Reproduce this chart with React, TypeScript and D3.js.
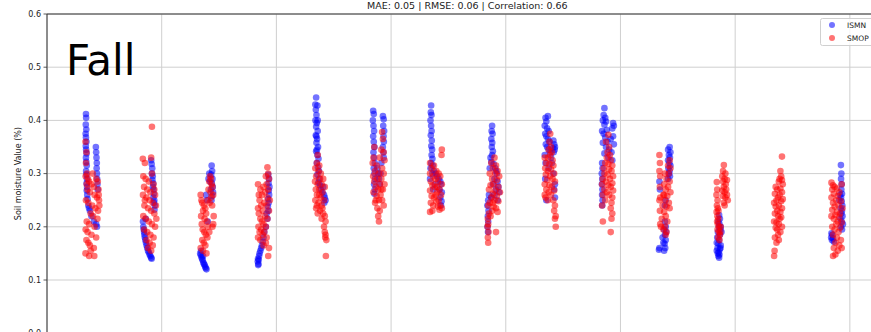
import React from "react";
import * as d3 from "d3";

// ---- Data: [day since Sep 1, soil moisture] for each fall season (year index) ----
const ismn00 = [[5,0.412],[6,0.405],[4,0.392],[7,0.383],[3,0.375],[5,0.368],[8,0.36],[4,0.352],[6,0.345],[9,0.338],[5,0.33],[7,0.322],[10,0.315],[6,0.305],[8,0.298],[11,0.29],[9,0.282],[12,0.275],[10,0.268],[13,0.26],[15,0.252],[30,0.23],[40,0.22],[55,0.21],[70,0.205],[75,0.2],[68,0.35],[70,0.34],[72,0.33],[74,0.32],[73,0.31],[75,0.3],[76,0.29],[78,0.28],[80,0.27],[20,0.24],[25,0.235]];
const smop00 = [[2,0.36],[8,0.34],[5,0.32],[12,0.3],[3,0.295],[18,0.29],[25,0.285],[10,0.28],[40,0.28],[55,0.275],[70,0.29],[80,0.285],[85,0.27],[15,0.27],[30,0.265],[60,0.26],[75,0.255],[88,0.25],[5,0.25],[20,0.245],[45,0.24],[65,0.235],[82,0.23],[35,0.225],[50,0.22],[78,0.215],[10,0.21],[25,0.205],[60,0.2],[3,0.195],[15,0.19],[40,0.185],[70,0.18],[8,0.175],[20,0.17],[30,0.165],[55,0.16],[35,0.155],[2,0.15],[25,0.145],[58,0.145],[86,0.26],[90,0.24],[48,0.3]];
const ismn01 = [[55,0.325],[58,0.318],[62,0.31],[60,0.3],[65,0.295],[63,0.288],[68,0.282],[66,0.275],[70,0.27],[72,0.262],[69,0.255],[75,0.25],[73,0.245],[78,0.24],[76,0.232],[5,0.2],[8,0.195],[10,0.19],[12,0.185],[15,0.18],[18,0.175],[22,0.17],[26,0.165],[30,0.16],[35,0.155],[40,0.152],[45,0.148],[50,0.145],[55,0.142],[58,0.14],[3,0.21],[20,0.215]];
const smop01 = [[60,0.388],[2,0.328],[55,0.33],[15,0.32],[60,0.3],[5,0.295],[20,0.29],[40,0.285],[70,0.28],[10,0.275],[30,0.27],[50,0.265],[80,0.26],[3,0.26],[25,0.255],[45,0.25],[65,0.245],[85,0.24],[12,0.24],[35,0.235],[55,0.23],[75,0.225],[5,0.22],[20,0.215],[40,0.21],[60,0.205],[80,0.2],[10,0.195],[30,0.19],[50,0.185],[70,0.18],[88,0.215],[25,0.175],[45,0.17],[65,0.165],[35,0.16],[55,0.155],[15,0.25],[75,0.27]];
const ismn02 = [[75,0.315],[78,0.305],[72,0.298],[80,0.29],[76,0.282],[82,0.275],[70,0.27],[84,0.265],[78,0.258],[74,0.25],[60,0.3],[65,0.285],[55,0.29],[40,0.26],[45,0.25],[50,0.21],[2,0.15],[6,0.147],[10,0.143],[14,0.14],[18,0.137],[22,0.133],[26,0.13],[30,0.128],[34,0.125],[38,0.122],[42,0.12],[8,0.155],[20,0.145]];
const smop02 = [[65,0.295],[70,0.29],[60,0.285],[75,0.28],[80,0.275],[55,0.27],[68,0.265],[85,0.26],[72,0.255],[50,0.25],[62,0.245],[78,0.24],[5,0.26],[10,0.25],[15,0.245],[25,0.24],[35,0.235],[20,0.23],[40,0.225],[8,0.22],[30,0.215],[45,0.21],[88,0.22],[12,0.205],[50,0.2],[18,0.195],[28,0.19],[38,0.185],[48,0.18],[15,0.175],[25,0.17],[35,0.165],[5,0.16],[20,0.155],[42,0.15],[80,0.2],[85,0.205],[60,0.19]];
const ismn03 = [[70,0.298],[75,0.29],[72,0.282],[78,0.275],[74,0.268],[76,0.26],[70,0.252],[73,0.245],[68,0.238],[71,0.23],[60,0.225],[65,0.215],[55,0.2],[45,0.19],[40,0.18],[35,0.172],[30,0.165],[25,0.16],[5,0.14],[3,0.135],[8,0.13],[6,0.128],[10,0.138],[12,0.145],[15,0.15],[20,0.155]];
const smop03 = [[65,0.312],[70,0.3],[55,0.295],[75,0.29],[5,0.28],[60,0.28],[40,0.275],[20,0.27],[70,0.27],[50,0.265],[10,0.26],[30,0.26],[65,0.255],[80,0.25],[15,0.25],[45,0.245],[25,0.24],[60,0.24],[5,0.235],[35,0.23],[75,0.23],[10,0.225],[50,0.22],[20,0.215],[65,0.215],[30,0.21],[40,0.205],[8,0.2],[55,0.2],[25,0.195],[15,0.19],[45,0.19],[35,0.185],[60,0.18],[5,0.18],[20,0.175],[75,0.16],[40,0.165],[70,0.145],[55,0.17]];
const ismn04 = [[10,0.443],[5,0.43],[18,0.428],[8,0.42],[12,0.41],[6,0.4],[14,0.395],[10,0.388],[20,0.38],[8,0.372],[16,0.365],[12,0.358],[22,0.35],[10,0.342],[18,0.335],[25,0.328],[14,0.32],[22,0.312],[28,0.305],[18,0.298],[30,0.29],[25,0.283],[35,0.278],[40,0.27],[50,0.265],[60,0.26],[65,0.255],[70,0.25],[62,0.245],[55,0.275],[12,0.37],[20,0.4],[15,0.345]];
const smop04 = [[20,0.335],[15,0.32],[30,0.315],[5,0.31],[25,0.305],[40,0.3],[10,0.295],[35,0.29],[55,0.29],[3,0.285],[20,0.28],[45,0.28],[65,0.275],[8,0.27],[30,0.27],[50,0.265],[15,0.26],[40,0.255],[60,0.25],[5,0.25],[25,0.245],[45,0.24],[10,0.235],[35,0.23],[55,0.225],[20,0.225],[65,0.22],[45,0.215],[70,0.21],[60,0.2],[65,0.19],[70,0.185],[75,0.175],[68,0.18],[72,0.145],[30,0.26],[50,0.235],[15,0.24]];
const ismn05 = [[8,0.418],[12,0.412],[6,0.4],[10,0.39],[14,0.38],[8,0.37],[12,0.36],[16,0.35],[10,0.34],[14,0.33],[18,0.32],[12,0.31],[16,0.3],[20,0.29],[14,0.28],[18,0.27],[16,0.262],[70,0.408],[75,0.402],[72,0.39],[78,0.38],[74,0.37],[76,0.36],[70,0.35],[73,0.34],[75,0.33],[40,0.3],[45,0.29],[50,0.28],[35,0.31],[60,0.32],[55,0.3]];
const smop05 = [[65,0.378],[70,0.365],[15,0.35],[60,0.345],[75,0.34],[10,0.33],[50,0.33],[80,0.325],[5,0.32],[30,0.315],[65,0.31],[20,0.305],[45,0.3],[75,0.3],[8,0.295],[35,0.29],[60,0.29],[15,0.285],[50,0.28],[80,0.28],[25,0.275],[40,0.27],[70,0.27],[10,0.265],[55,0.26],[30,0.258],[45,0.25],[65,0.25],[20,0.245],[75,0.24],[35,0.235],[50,0.23],[40,0.22],[45,0.21],[25,0.25],[60,0.27]];
const ismn06 = [[12,0.428],[10,0.415],[14,0.41],[8,0.4],[12,0.39],[15,0.38],[10,0.372],[16,0.362],[13,0.352],[18,0.345],[15,0.335],[20,0.328],[12,0.32],[22,0.315],[8,0.31],[30,0.305],[40,0.3],[50,0.295],[60,0.29],[70,0.285],[75,0.28],[65,0.27],[80,0.265],[70,0.255],[78,0.248],[75,0.24],[20,0.3],[5,0.29],[35,0.28],[25,0.27]];
const smop06 = [[80,0.345],[78,0.335],[5,0.32],[30,0.315],[15,0.31],[45,0.305],[60,0.3],[5,0.3],[25,0.295],[70,0.295],[40,0.29],[10,0.285],[55,0.285],[80,0.28],[20,0.278],[35,0.275],[65,0.27],[5,0.268],[50,0.265],[75,0.26],[15,0.258],[30,0.255],[60,0.25],[45,0.248],[10,0.245],[70,0.24],[25,0.24],[55,0.238],[80,0.235],[65,0.232],[20,0.23],[5,0.228],[40,0.26],[50,0.275]];
const ismn07 = [[35,0.39],[32,0.38],[38,0.375],[30,0.365],[36,0.358],[33,0.35],[40,0.342],[35,0.335],[25,0.33],[30,0.322],[45,0.318],[55,0.31],[60,0.305],[20,0.31],[65,0.3],[50,0.29],[70,0.285],[40,0.28],[75,0.275],[60,0.27],[80,0.265],[15,0.26],[10,0.25],[70,0.25],[5,0.24],[12,0.23],[8,0.22],[10,0.21],[6,0.2],[9,0.19],[50,0.26],[30,0.255]];
const smop07 = [[50,0.33],[30,0.32],[60,0.315],[40,0.31],[70,0.305],[20,0.3],[55,0.3],[80,0.295],[35,0.29],[65,0.288],[45,0.28],[25,0.278],[75,0.275],[15,0.27],[55,0.268],[85,0.265],[40,0.262],[65,0.258],[30,0.255],[50,0.25],[75,0.248],[20,0.245],[10,0.24],[45,0.238],[60,0.235],[35,0.23],[15,0.225],[70,0.228],[25,0.22],[8,0.215],[10,0.205],[6,0.2],[12,0.19],[8,0.18],[10,0.17],[60,0.19],[40,0.245]];
const ismn08 = [[10,0.405],[25,0.408],[15,0.398],[5,0.39],[20,0.385],[30,0.38],[8,0.375],[15,0.37],[25,0.365],[35,0.36],[60,0.362],[65,0.355],[70,0.35],[12,0.355],[20,0.35],[30,0.345],[40,0.34],[55,0.348],[62,0.34],[68,0.345],[5,0.335],[45,0.33],[10,0.32],[50,0.32],[60,0.3],[30,0.31],[8,0.29],[70,0.28],[65,0.27],[15,0.25],[70,0.255]];
const smop08 = [[40,0.375],[35,0.36],[45,0.35],[30,0.345],[50,0.34],[40,0.335],[5,0.33],[25,0.33],[55,0.325],[15,0.32],[35,0.318],[60,0.315],[8,0.31],[45,0.308],[25,0.305],[65,0.3],[12,0.298],[40,0.295],[55,0.29],[20,0.288],[70,0.285],[5,0.28],[35,0.278],[50,0.275],[15,0.27],[65,0.268],[30,0.265],[45,0.26],[10,0.255],[60,0.25],[25,0.25],[70,0.24],[5,0.26],[65,0.23],[75,0.22],[70,0.215],[75,0.2]];
const ismn09 = [[20,0.423],[15,0.41],[25,0.405],[10,0.4],[30,0.398],[75,0.395],[80,0.39],[20,0.392],[70,0.385],[35,0.382],[5,0.38],[15,0.375],[75,0.37],[25,0.368],[60,0.365],[40,0.36],[10,0.358],[80,0.355],[30,0.35],[50,0.345],[65,0.34],[20,0.338],[45,0.33],[70,0.325],[5,0.32],[8,0.31],[3,0.3],[6,0.29],[4,0.28],[7,0.27],[5,0.26],[8,0.25],[6,0.24]];
const smop09 = [[45,0.373],[30,0.36],[50,0.35],[40,0.34],[55,0.335],[35,0.33],[60,0.325],[25,0.32],[45,0.318],[70,0.315],[15,0.31],[50,0.308],[65,0.305],[20,0.3],[40,0.298],[75,0.295],[10,0.29],[55,0.29],[30,0.285],[70,0.282],[5,0.28],[45,0.278],[60,0.275],[20,0.27],[75,0.268],[35,0.265],[10,0.26],[50,0.26],[70,0.255],[25,0.25],[65,0.245],[5,0.24],[60,0.235],[70,0.225],[65,0.215],[10,0.21],[60,0.19]];
const ismn10 = [[70,0.35],[60,0.345],[75,0.34],[65,0.335],[72,0.33],[60,0.325],[68,0.32],[75,0.315],[62,0.31],[70,0.305],[65,0.3],[72,0.295],[60,0.29],[5,0.285],[8,0.27],[40,0.21],[45,0.2],[35,0.195],[40,0.185],[45,0.175],[38,0.168],[42,0.16],[35,0.155],[2,0.157],[5,0.16],[30,0.17],[25,0.18],[48,0.19],[40,0.24],[45,0.25]];
const smop10 = [[5,0.335],[8,0.32],[70,0.325],[60,0.315],[5,0.305],[75,0.31],[40,0.3],[10,0.295],[65,0.3],[50,0.29],[70,0.285],[35,0.28],[8,0.275],[60,0.275],[45,0.27],[75,0.265],[30,0.26],[55,0.258],[10,0.255],[40,0.25],[65,0.245],[25,0.24],[50,0.238],[70,0.235],[8,0.23],[35,0.228],[45,0.22],[20,0.215],[55,0.21],[10,0.205],[40,0.2],[30,0.195],[50,0.19],[15,0.2],[45,0.185],[35,0.26],[5,0.25]];
const ismn11 = [[20,0.222],[25,0.215],[15,0.21],[22,0.205],[18,0.2],[28,0.195],[12,0.19],[25,0.185],[8,0.18],[20,0.175],[5,0.17],[15,0.168],[30,0.165],[10,0.16],[25,0.158],[5,0.155],[18,0.152],[12,0.15],[22,0.148],[15,0.145],[20,0.142],[28,0.16],[35,0.19],[30,0.2]];
const smop11 = [[50,0.316],[45,0.305],[60,0.3],[40,0.295],[55,0.29],[70,0.288],[45,0.285],[62,0.28],[50,0.275],[65,0.27],[40,0.268],[55,0.265],[70,0.26],[45,0.258],[60,0.255],[75,0.25],[50,0.245],[55,0.24],[5,0.284],[8,0.27],[3,0.26],[10,0.25],[6,0.24],[12,0.235],[4,0.228],[9,0.22],[15,0.215],[7,0.21],[12,0.205],[20,0.2],[10,0.195],[18,0.19],[25,0.185],[14,0.18],[22,0.175],[30,0.2],[28,0.19],[16,0.23]];
const ismn12: number[][] = [];
const smop12 = [[55,0.332],[45,0.305],[50,0.295],[40,0.29],[55,0.288],[35,0.285],[60,0.28],[15,0.275],[45,0.272],[25,0.27],[55,0.265],[10,0.262],[40,0.26],[30,0.255],[60,0.252],[20,0.25],[50,0.248],[5,0.245],[35,0.24],[15,0.238],[55,0.235],[25,0.23],[45,0.228],[10,0.225],[30,0.22],[50,0.218],[40,0.215],[5,0.21],[20,0.208],[35,0.205],[55,0.2],[15,0.198],[25,0.195],[45,0.19],[30,0.185],[10,0.18],[35,0.175],[20,0.17],[8,0.155],[5,0.145]];
const ismn13 = [[65,0.316],[68,0.3],[66,0.29],[70,0.28],[68,0.27],[72,0.262],[66,0.255],[70,0.248],[74,0.24],[64,0.235],[72,0.23],[68,0.225],[75,0.22],[62,0.215],[70,0.21],[78,0.205],[65,0.2],[72,0.195],[5,0.188],[10,0.185],[3,0.18],[15,0.178],[8,0.175],[20,0.172],[60,0.26],[55,0.25]];
const smop13 = [[5,0.283],[15,0.278],[25,0.275],[70,0.28],[10,0.27],[40,0.272],[55,0.265],[20,0.262],[45,0.258],[5,0.255],[35,0.25],[65,0.248],[15,0.245],[50,0.24],[25,0.238],[75,0.235],[10,0.232],[40,0.228],[60,0.225],[30,0.222],[5,0.22],[55,0.218],[20,0.215],[45,0.21],[70,0.208],[35,0.205],[10,0.2],[60,0.198],[25,0.195],[50,0.19],[15,0.185],[40,0.18],[65,0.175],[30,0.17],[55,0.165],[20,0.16],[45,0.155],[30,0.148],[15,0.145],[70,0.16]];

const ismnSeasons = [ismn00, ismn01, ismn02, ismn03, ismn04, ismn05, ismn06, ismn07, ismn08, ismn09, ismn10, ismn11, ismn12, ismn13];
const smopSeasons = [smop00, smop01, smop02, smop03, smop04, smop05, smop06, smop07, smop08, smop09, smop10, smop11, smop12, smop13];

const yTicks = [0.0, 0.1, 0.2, 0.3, 0.4, 0.5, 0.6];
const xTicks = [0, 2, 4, 6, 8, 10, 12, 14];
const titleText = "MAE: 0.05 | RMSE: 0.06 | Correlation: 0.66";
const seasonLabel = "Fall";
const yLabel = "Soil moisture Value (%)";
const legendItems = [
  { name: "ISMN", color: "#0000ff" },
  { name: "SMOP", color: "#ff0000" },
];

const W = 871;
const H = 332;
const FALL_START = 243; // day of year for Sep 1

export default function App() {
  const x = d3.scaleLinear().domain([0, 14.66]).range([47, 887.7]);
  const y = d3.scaleLinear().domain([0, 0.6]).range([333.2, 14]);
  const toPoints = (seasons: number[][][]) =>
    seasons.flatMap((pts, i) =>
      pts.map(([d, v]) => ({ t: i + (FALL_START + d) / 365, v }))
    );
  const ismnPts = toPoints(ismnSeasons);
  const smopPts = toPoints(smopSeasons);
  const font = "'DejaVu Sans', sans-serif";
  const [x0, x1] = x.range();
  const [yb, yt] = y.range();
  const R = 3.3;

  return (
    <svg
      width={W}
      height={H}
      style={{ position: "absolute", left: 0, top: 0, background: "#fff" }}
      fontFamily={font}
    >
      <rect x={0} y={0} width={W} height={H} fill="#fff" />
      {yTicks.map((t) => (
        <line key={"gy" + t} x1={x0} x2={x1} y1={y(t)} y2={y(t)} stroke="#cfcfcf" strokeWidth={1} />
      ))}
      {xTicks.map((t) => (
        <line key={"gx" + t} x1={x(t)} x2={x(t)} y1={yt} y2={yb} stroke="#cfcfcf" strokeWidth={1} />
      ))}
      <g>
        {ismnPts.map((p, i) => (
          <circle key={"i" + i} cx={x(p.t)} cy={y(p.v)} r={R} fill="#0000ff" fillOpacity={0.55} />
        ))}
        {smopPts.map((p, i) => (
          <circle key={"s" + i} cx={x(p.t)} cy={y(p.v)} r={R} fill="#ff0000" fillOpacity={0.55} />
        ))}
      </g>
      <line x1={x0} x2={x0} y1={yt} y2={yb} stroke="#333" strokeWidth={1} />
      <line x1={x0} x2={x1} y1={yt} y2={yt} stroke="#333" strokeWidth={1} />
      {yTicks.map((t) => (
        <g key={"yt" + t}>
          <line x1={x0 - 3.5} x2={x0} y1={y(t)} y2={y(t)} stroke="#333" strokeWidth={0.8} />
          <text x={x0 - 6} y={y(t)} dy="0.35em" textAnchor="end" fontSize={8} fill="#222">
            {t.toFixed(1)}
          </text>
        </g>
      ))}
      <text
        transform={`translate(21,${(yt + yb) / 2}) rotate(-90)`}
        textAnchor="middle"
        fontSize={8}
        fill="#222"
      >
        {yLabel}
      </text>
      <text x={(x0 + x1) / 2} y={9} textAnchor="middle" fontSize={9.5} fill="#222">
        {titleText}
      </text>
      <text x={66} y={75} fontSize={42} fill="#000">
        {seasonLabel}
      </text>
      <rect x={820.5} y={18.5} width={70} height={27} rx={2} fill="#fff" fillOpacity={0.8} stroke="#d0d0d0" />
      {legendItems.map((it, i) => (
        <g key={it.name}>
          <circle cx={832} cy={25 + i * 13} r={3} fill={it.color} fillOpacity={0.55} />
          <text x={847} y={25 + i * 13} dy="0.35em" fontSize={7.5} fill="#222">
            {it.name}
          </text>
        </g>
      ))}
    </svg>
  );
}
